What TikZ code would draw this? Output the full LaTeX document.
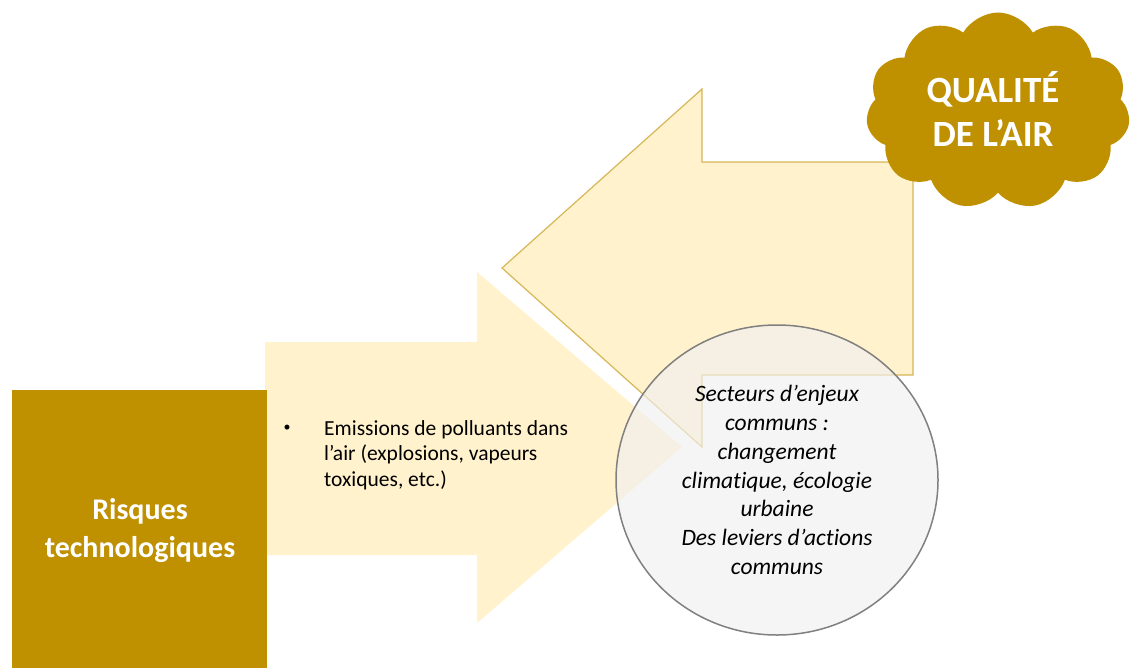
\documentclass[tikz,border=0pt]{standalone}
\usepackage{fontspec}
\setmainfont[Ligatures=NoCommon]{Carlito}
\usetikzlibrary{shapes.symbols}
\definecolor{gold}{RGB}{191,144,0}
\definecolor{pale}{RGB}{255,242,204}
\definecolor{paleline}{RGB}{214,182,86}
\definecolor{ringline}{RGB}{128,128,128}
\definecolor{ringfill}{RGB}{240,240,240}
\begin{document}
\begin{tikzpicture}[x=1pt,y=-1pt,
  whitebold/.style={text=white, font=\bfseries},
  paleshape/.style={fill=pale},
  paleoutline/.style={fill=pale, draw=paleline, line width=1.2pt, line join=miter},
  goldfill/.style={fill=gold},
  ring/.style={draw=ringline, line width=1.5pt, fill=ringfill, fill opacity=0.65},
  bodytext/.style={font=\fontsize{21.5}{25.5}\selectfont, align=left, inner sep=0pt},
  ringtext/.style={font=\itshape\fontsize{23.5}{28.7}\selectfont, align=center, inner sep=0pt}
]
\useasboundingbox (0,0) rectangle (1134,667);
% right arrow
\fill[paleshape] (265,342) -- (477,342) -- (477,272) -- (682,447) -- (477,623) -- (477,555) -- (265,555) -- cycle;
% left arrow
\filldraw[paleoutline] (913,162) -- (702,162) -- (702,89) -- (502,268) -- (702,447) -- (702,375) -- (913,375) -- cycle;
% left square
\fill[goldfill] (12,390) rectangle (267,668);
\node[whitebold, font=\bfseries\fontsize{30}{38}\selectfont, align=center, inner sep=0pt] (risk) at (140,531) {Risques\\technologiques};
% cloud
\node[cloud, goldfill, cloud puffs=11, cloud puff arc=120, minimum width=264, minimum height=197, aspect=1.34, inner sep=0pt] (cloud) at (998,111) {};
\node[whitebold, font=\bfseries\fontsize{37}{44}\selectfont, align=center, inner sep=0pt] (air) at (993,109) {QUALITÉ\\DE L’AIR};
% bullet text
\node[font=\fontsize{14}{16}\selectfont, inner sep=0pt] (dot) at (287,428) {•};
\node[bodytext, anchor=west] (emis) at (324,455) {Emissions de polluants dans\\l’air (explosions, vapeurs\\toxiques, etc.)};
% circle
\draw[ring] (777,480) ellipse [x radius=161, y radius=155];
\node[ringtext] (common) at (777,480) {Secteurs d’enjeux\\communs :\\changement\\climatique, écologie\\urbaine\\Des leviers d’actions\\communs};
\end{tikzpicture}
\end{document}
